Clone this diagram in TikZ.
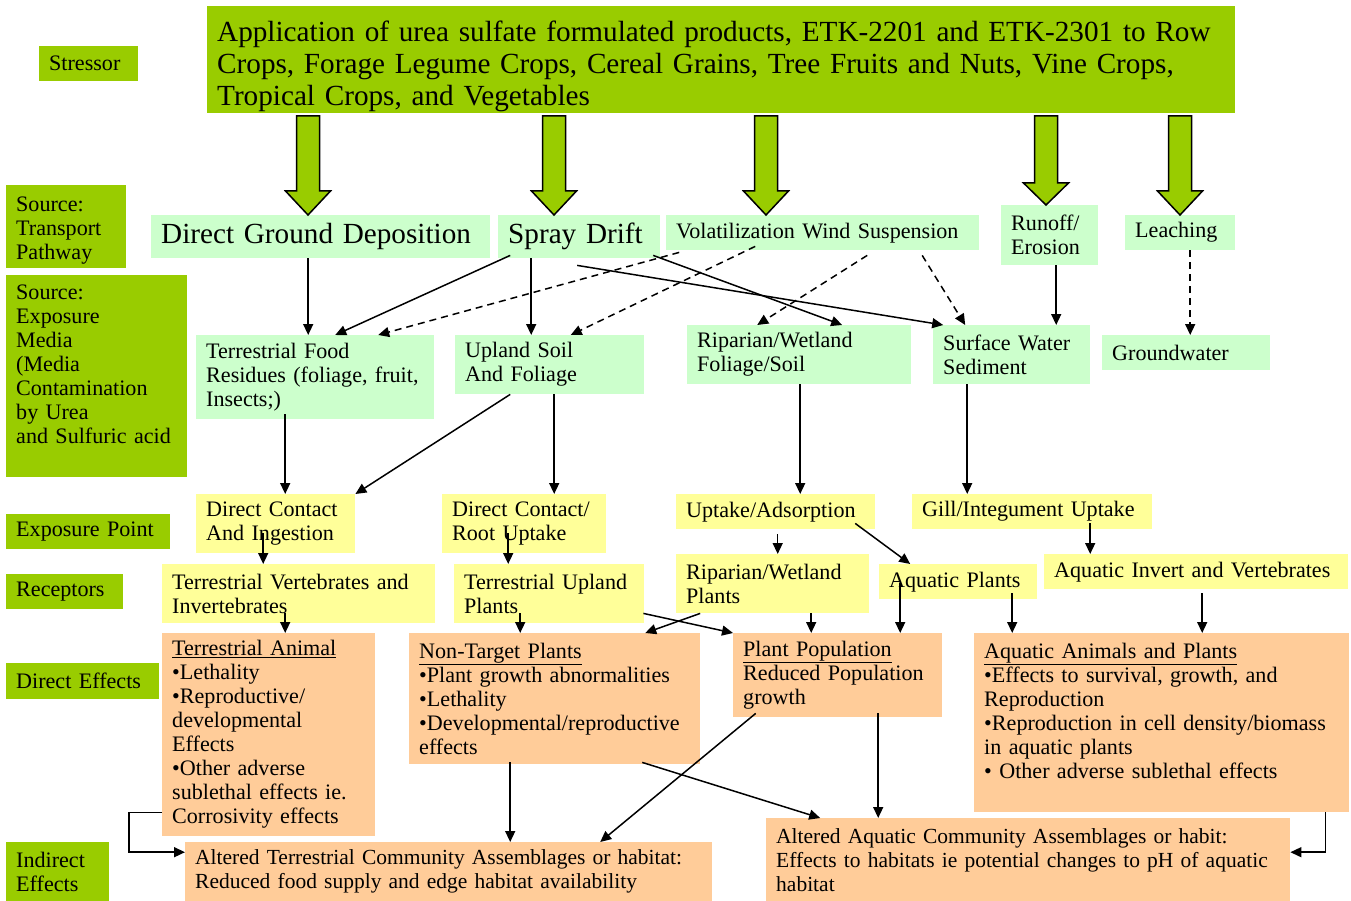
\documentclass[tikz,border=0pt]{standalone}
\usepackage{fontspec}
\setmainfont{Liberation Serif}
\usetikzlibrary{arrows.meta}

\definecolor{darkgreen}{RGB}{153,204,0}
\definecolor{lightgreen}{RGB}{204,255,204}
\definecolor{lightyellow}{RGB}{255,255,153}
\definecolor{lightorange}{RGB}{255,204,153}

\newcommand{\txtnorm}{\fontsize{22.1}{24}\selectfont}
\newcommand{\txtsmall}{\fontsize{21.5}{24}\selectfont}
\newcommand{\txtbig}{\fontsize{29.2}{32}\selectfont}

\tikzstyle{box} = [rectangle, anchor=north west, align=left, inner xsep=10pt, inner ysep=1pt, font=\txtnorm,
  execute at begin node={\hyphenpenalty=10000\exhyphenpenalty=10000}]
\tikzstyle{lab} = [box, fill=darkgreen]
\tikzstyle{trans} = [box, fill=lightgreen]
\tikzstyle{expo} = [box, fill=lightyellow]
\tikzstyle{effect} = [box, fill=lightorange]
\tikzstyle{arrow} = [line width=1.5pt, -{Triangle[length=11pt,width=10pt]}]
\tikzstyle{dasharrow} = [arrow, dash pattern=on 7pt off 5pt]
\tikzstyle{fatarrow} = [line width=1.5pt, fill=darkgreen, line join=miter]

\begin{document}
\begin{tikzpicture}[x=1pt, y=-1pt]
\useasboundingbox (0,0) rectangle (1351,901);

\node (stress) [lab, font=\txtbig, minimum width=1028, minimum height=107, text width=1008] at (207,6) {\rule{0pt}{33pt}Application of urea sulfate formulated products, ETK-2201 and ETK-2301 to Row\\Crops, Forage Legume Crops, Cereal Grains, Tree Fruits and Nuts, Vine Crops,\\Tropical Crops, and Vegetables};

\node (lstress) [lab, minimum width=99, minimum height=35, text width=79] at (39,46) {Stressor};
\node (lpath) [lab, minimum width=120, minimum height=83, text width=100] at (6,185) {\rule{0pt}{22pt}Source:\\Transport\\Pathway};
\node (lmedia) [lab, minimum width=181, minimum height=202, text width=161] at (6,275) {Source:\\Exposure\\Media\\(Media\\Contamination\\by Urea\\and Sulfuric acid\\~};
\node (lexpo) [lab, minimum width=164, minimum height=35, text width=144] at (6,514) {Exposure Point};
\node (lrecep) [lab, minimum width=117, minimum height=35, text width=97] at (6,574) {Receptors};
\node (ldirect) [lab, minimum width=153, minimum height=36, text width=133] at (6,663) {Direct Effects};
\node (lindirect) [lab, minimum width=103, minimum height=59, text width=83] at (6,842) {Indirect\\Effects};

\node (dgd) [trans, font=\txtbig, minimum width=339, minimum height=43, text width=319] at (151,215) {Direct Ground Deposition};
\node (spray) [trans, font=\txtbig, minimum width=162, minimum height=43, text width=142] at (498,215) {Spray Drift};
\node (volat) [trans, minimum width=313, minimum height=35, text width=293] at (666,215) {Volatilization Wind Suspension};
\node (runoff) [trans, minimum width=97, minimum height=60, text width=77] at (1001,205) {Runoff/\\Erosion};
\node (leach) [trans, minimum width=110, minimum height=35, text width=90] at (1125,215) {Leaching};

\node (tfood) [trans, minimum width=238, minimum height=84, text width=218] at (196,335) {Terrestrial Food\\Residues (foliage, fruit,\\Insects;)};
\node (upland) [trans, minimum width=189, minimum height=59, text width=169] at (455,335) {Upland Soil\\And Foliage};
\node (ripfol) [trans, minimum width=224, minimum height=59, text width=204] at (687,325) {Riparian/Wetland\\Foliage/Soil};
\node (surf) [trans, minimum width=157, minimum height=59, text width=137] at (933,325) {Surface Water\\Sediment};
\node (ground) [trans, minimum width=168, minimum height=35, text width=148] at (1102,335) {Groundwater};

\node (dci) [expo, minimum width=159, minimum height=59, text width=139] at (196,494) {Direct Contact\\And Ingestion};
\node (dcr) [expo, minimum width=164, minimum height=59, text width=144] at (442,494) {Direct Contact/\\Root Uptake};
\node (uptake) [expo, minimum width=199, minimum height=35, text width=179] at (676,494) {Uptake/Adsorption};
\node (gill) [expo, minimum width=240, minimum height=35, text width=220] at (912,494) {Gill/Integument Uptake};

\node (tvi) [expo, minimum width=273, minimum height=59, text width=253] at (162,564) {Terrestrial Vertebrates and\\Invertebrates};
\node (tup) [expo, minimum width=190, minimum height=59, text width=170] at (454,564) {Terrestrial Upland\\Plants};
\node (ripp) [expo, minimum width=193, minimum height=59, text width=173] at (676,554) {Riparian/Wetland\\Plants};
\node (aqp) [expo, minimum width=158, minimum height=35, text width=138] at (879,564) {Aquatic Plants};
\node (aiv) [expo, minimum width=304, minimum height=35, text width=284] at (1044,554) {Aquatic Invert and Vertebrates};

\node (tanim) [effect, minimum width=213, minimum height=203, text width=193] at (162,633) {\underline{Terrestrial Animal}\\•Lethality\\•Reproductive/\\developmental\\Effects\\•Other adverse\\sublethal effects ie.\\Corrosivity effects};
\node (ntp) [effect, minimum width=291, minimum height=131, text width=271] at (409,633) {\underline{Non-Target Plants}\\•Plant growth abnormalities\\•Lethality\\•Developmental/reproductive\\effects};
\node (ppop) [effect, minimum width=209, minimum height=84, text width=189] at (733,633) {\underline{Plant Population}\\Reduced Population\\growth};
\node (aap) [effect, minimum width=375, minimum height=179, text width=355] at (974,633) {\underline{Aquatic Animals and Plants}\\•Effects to survival, growth, and\\Reproduction\\•Reproduction in cell density/biomass\\in aquatic plants\\• Other adverse sublethal effects\\~};
\node (ater) [effect, font=\txtsmall, minimum width=527, minimum height=59, text width=507] at (185,842) {Altered Terrestrial Community Assemblages or habitat:\\Reduced food supply and edge habitat availability};
\node (aaq) [effect, font=\txtsmall, minimum width=524, minimum height=83, text width=504] at (766,818) {Altered Aquatic Community Assemblages or habit:\\Effects to habitats ie potential changes to pH of aquatic\\habitat};

\foreach \t/\x/\h in {dgd/308/191, spray/554/191, volat/766/191, runoff/1046/183, leach/1180/191}
  \draw [fatarrow] (\x-11.5,116) -- (\x+11.5,116) -- (\x+11.5,\h) -- (\x+22.5,\h) -- (\x,116 |- \t.north) -- (\x-22.5,\h) -- (\x-11.5,\h) -- cycle;

\draw [arrow] ([xshift=-12.5]dgd.south) -- ([xshift=-7]tfood.north);
\draw [arrow] ([xshift=-69,yshift=3]spray.south) -- ([xshift=20]tfood.north);
\draw [arrow] ([xshift=-48]spray.south) -- ([xshift=-18.5]upland.north);
\draw [arrow] ([xshift=-2,yshift=-7]spray.south) -- ([xshift=-68.5]surf.north);
\draw [arrow] ([xshift=74,yshift=3]spray.south) -- ([xshift=43]ripfol.north);
\draw [dasharrow] ([xshift=-143.5,yshift=-2]volat.south) -- ([xshift=63]tfood.north);
\draw [dasharrow] ([xshift=-67.5,yshift=4]volat.south) -- ([xshift=21]upland.north);
\draw [dasharrow] ([xshift=44.5,yshift=-5]volat.south) -- ([xshift=-42]ripfol.north);
\draw [dasharrow] ([xshift=99.5,yshift=-5]volat.south) -- ([xshift=-46.5]surf.north);
\draw [arrow] ([xshift=6.5]runoff.south) -- ([xshift=44.5]surf.north);
\draw [dasharrow] ([xshift=10]leach.south) -- ([xshift=4]ground.north);

\draw [arrow] ([xshift=-30,yshift=5]tfood.south) -- ([xshift=9.5]dci.north);
\draw [arrow] ([xshift=-39.5]upland.south) -- (dci.north east);
\draw [arrow] ([xshift=4.5]upland.south) -- ([xshift=30]dcr.north);
\draw [arrow] ([xshift=1]ripfol.south) -- ([xshift=24.5]uptake.north);
\draw [arrow] ([xshift=-44.5]surf.south) -- ([xshift=-65]gill.north);

\draw [arrow] ([xshift=-12.5,yshift=20]dci.south) -- ([xshift=-35.5]tvi.north);
\draw [arrow] ([xshift=-16,yshift=20]dcr.south) -- ([xshift=-41]tup.north);
\draw [arrow] ([xshift=2,yshift=-5]uptake.south) -- ([xshift=5]ripp.north);
\draw [arrow] ([xshift=79.5,yshift=6]uptake.south) -- ([xshift=-48]aqp.north);
\draw [arrow] ([xshift=58,yshift=6]gill.south) -- ([xshift=-106]aiv.north);

\draw [arrow] ([xshift=-13.5,yshift=10]tvi.south) -- ([xshift=16.5]tanim.north);
\draw [arrow] ([xshift=-29,yshift=10]tup.south) -- ([xshift=-34.5]ntp.north);
\draw [arrow] ([xshift=-1,yshift=10]tup.south east) -- (ppop.north west);
\draw [arrow] ([xshift=-72.5]ripp.south) -- ([xshift=90.5]ntp.north);
\draw [arrow] ([xshift=38.5]ripp.south) -- ([xshift=-26.5]ppop.north);
\draw [arrow] ([xshift=-58,yshift=16]aqp.south) -- ([xshift=62.5]ppop.north);
\draw [arrow] ([xshift=54,yshift=6]aqp.south) -- ([xshift=-149.5]aap.north);
\draw [arrow] ([xshift=6,yshift=-4]aiv.south) -- ([xshift=40.5]aap.north);

\draw [arrow] ([yshift=24]tanim.south west) -- ++(-33,0) |- ([yshift=19.5]ater.west);
\draw [arrow] ([xshift=-44.5,yshift=2]ntp.south) -- ([xshift=61.5]ater.north);
\draw [arrow] ([xshift=-82,yshift=4]ppop.south) -- ([xshift=151.5]ater.north);
\draw [arrow] ([xshift=87.5,yshift=2]ntp.south) -- ([xshift=-208]aaq.north);
\draw [arrow] ([xshift=40.5,yshift=4]ppop.south) -- ([xshift=-150]aaq.north);
\draw [arrow] ([xshift=164]aap.south) |- ([yshift=7.5]aaq.east);
\end{tikzpicture}
\end{document}
